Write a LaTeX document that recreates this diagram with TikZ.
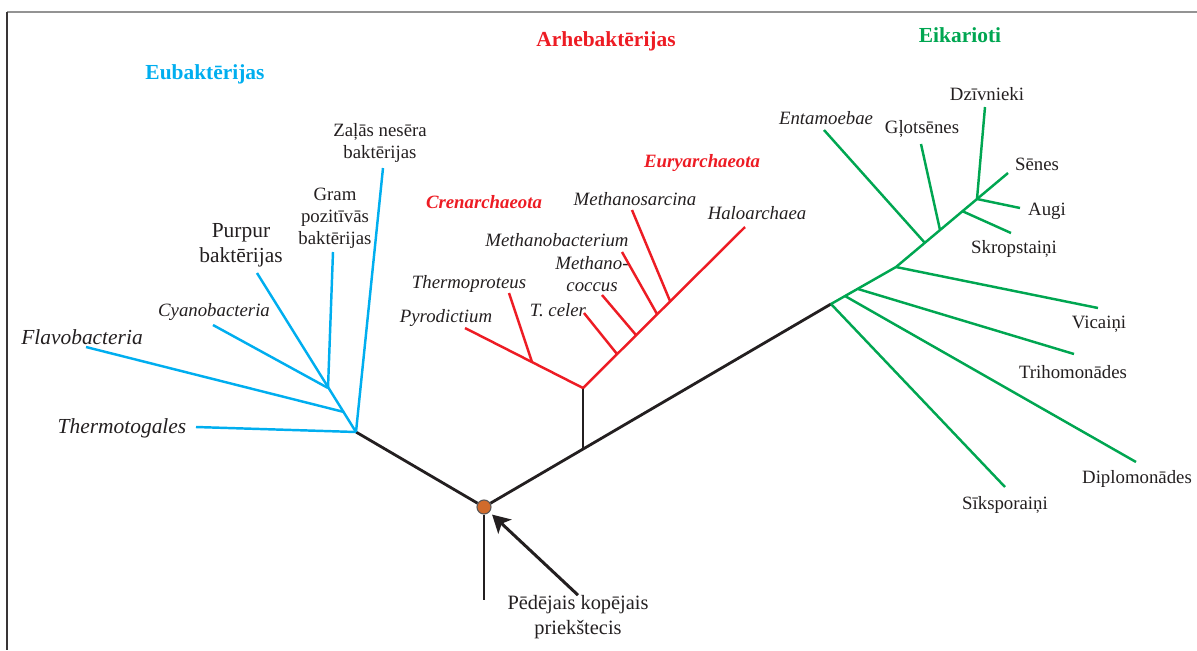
\documentclass[tikz,border=0pt]{standalone}
\usepackage{fontspec}
\setmainfont{Liberation Serif}
\usetikzlibrary{arrows.meta}

\definecolor{eublue}{RGB}{0,174,239}
\definecolor{arred}{RGB}{237,28,36}
\definecolor{ekgreen}{RGB}{0,166,81}
\definecolor{ancfill}{RGB}{209,107,44}
\definecolor{ink}{RGB}{35,31,32}

\begin{document}
\begin{tikzpicture}[x=0.02cm, y=-0.02cm,
	trunk/.style		={line width=1.6pt, ink},
	eub/.style			={line width=1.4pt, eublue},
	arb/.style			={line width=1.4pt, arred},
	ekb/.style			={line width=1.4pt, ekgreen},
	lbl/.style			={inner sep=0pt, align=center, text=ink, font=\fontsize{10.7}{12.6}\selectfont},
	lbi/.style			={inner sep=0pt, align=center, text=ink, font=\itshape\fontsize{10.7}{12.6}\selectfont},
	biglbl/.style		={inner sep=0pt, align=center, text=ink, font=\fontsize{12.2}{14.2}\selectfont},
	biglbi/.style		={inner sep=0pt, align=center, text=ink, font=\itshape\fontsize{12.2}{14.2}\selectfont},
	grouptitle/.style	={inner sep=0pt, font=\bfseries\fontsize{12.2}{14}\selectfont},
	subtitle/.style		={inner sep=0pt, text=arred, font=\bfseries\itshape\fontsize{10.7}{12.6}\selectfont},
	pointer/.style		={line width=1.7pt, ink, -{Stealth[length=10pt, width=11pt, inset=2.5pt]}}]

	\useasboundingbox (0,0) rectangle (1197,650);
	\draw[gray!85, line width=1.2pt]	(7,12) -- (1197,12);
	\draw[ink!90, line width=1.1pt]	(7,12) -- (7,650);

	% junctions
	\coordinate (eu)	at (356,432);
	\coordinate (ar)	at (583,450);
	\coordinate (arB)	at (583,388);
	\coordinate (ek)	at (831,304);
	\coordinate (stemE)	at (484,600);

	\node[circle, draw=ink!75, fill=ancfill, line width=0.6pt, minimum size=8pt, inner sep=0pt] (anc) at (484,507) {};

	\path[trunk]
	(anc)	edge	(eu)
			edge	(ek)
			edge	(stemE)
	(ar)	edge	(arB);

	\node[lbl, font=\fontsize{11.6}{14}\selectfont] (lca) at (578,617) {Pēdējais kopējais\\priekštecis};
	\draw[pointer, shorten >=2pt] (lca.north) -- (anc);

	% Eubakterijas
	\node[grouptitle, text=eublue]	(eutitle)	at (205,74)		{Eubaktērijas};
	\node[lbl]		(zal)		at (380,143)	{Zaļās nesēra\\baktērijas};
	\node[lbl]		(gram)		at (335,218)	{Gram\\pozitīvās\\baktērijas};
	\node[biglbl]	(purp)		at (241,245)	{Purpur\\baktērijas};
	\node[lbi]		(cyan)		at (214,312)	{Cyanobacteria};
	\node[biglbi]	(flav)		at (82,337)		{Flavobacteria};
	\node[biglbi]	(thermo)	at (122,428)	{Thermotogales};

	\coordinate (euFlav)	at (344,412);
	\coordinate (euCyan)	at (328,388);
	\coordinate (zalE)		at (383,168);
	\coordinate (gramE)		at (333,252);
	\coordinate (purpE)		at (257,273);
	\coordinate (cyanE)		at (213,325);
	\coordinate (flavE)		at (86,347);
	\coordinate (thermoE)	at (196,427);

	\path[eub]
	(eu)		edge	(zalE)
				edge	(purpE)
				edge	(thermoE)
	(euFlav)	edge	(flavE)
	(euCyan)	edge	(cyanE)
				edge	(gramE);

	% Arhebakterijas
	\node[grouptitle, text=arred]	(artitle)	at (606,41)		{Arhebaktērijas};
	\node[subtitle]	(cren)		at (484,202)	{Crenarchaeota};
	\node[subtitle]	(eury)		at (702,163)	{Euryarchaeota};
	\node[lbi]		(msar)		at (635,199)	{Methanosarcina};
	\node[lbi]		(halo)		at (757,213)	{Haloarchaea};
	\node[lbi]		(mbac)		at (557,240)	{Methanobacterium};
	\node[lbi]		(mcoc)		at (592,274)	{Methano-\\coccus};
	\node[lbi]		(tprot)		at (469,284)	{Thermoproteus};
	\node[lbi]		(tcel)		at (558,310)	{T. celer};
	\node[lbi]		(pyro)		at (446,318)	{Pyrodictium};

	\coordinate (arTprot)	at (532,362);
	\coordinate (arTcel)	at (617,354);
	\coordinate (arMcoc)	at (636,335);
	\coordinate (arMbac)	at (657,314);
	\coordinate (arMsar)	at (670,301);
	\coordinate (pyroE)		at (465,328);
	\coordinate (tprotE)	at (509,293);
	\coordinate (haloE)		at (745,227);
	\coordinate (tcelE)		at (584,313);
	\coordinate (mcocE)		at (602,295);
	\coordinate (mbacE)		at (622,252);
	\coordinate (msarE)		at (632,210);

	\path[arb]
	(arB)		edge	(pyroE)
				edge	(haloE)
	(arTprot)	edge	(tprotE)
	(arTcel)	edge	(tcelE)
	(arMcoc)	edge	(mcocE)
	(arMbac)	edge	(mbacE)
	(arMsar)	edge	(msarE);

	% Eikarioti
	\node[grouptitle, text=ekgreen]	(ektitle)	at (960,35)		{Eikarioti};
	\node[lbl]		(dzv)		at (987,94)		{Dzīvnieki};
	\node[lbi]		(ent)		at (826,118)	{Entamoebae};
	\node[lbl]		(glot)		at (922,129)	{Gļotsēnes};
	\node[lbl]		(sen)		at (1037,164)	{Sēnes};
	\node[lbl]		(aug)		at (1047,211)	{Augi};
	\node[lbl]		(skr)		at (1014,249)	{Skropstaiņi};
	\node[lbl]		(vic)		at (1099,324)	{Vicaiņi};
	\node[lbl]		(tri)		at (1073,372)	{Trihomonādes};
	\node[lbl]		(dip)		at (1137,479)	{Diplomonādes};
	\node[lbl]		(sik)		at (1005,505)	{Sīksporaiņi};

	\coordinate (ekVic)		at (896,267);
	\coordinate (ekDip)		at (845,296);
	\coordinate (ekTri)		at (858,289);
	\coordinate (ekEnt)		at (925,243);
	\coordinate (ekGlot)	at (940,230);
	\coordinate (ekSkr)		at (962,211);
	\coordinate (ekDzv)		at (977,199);
	\coordinate (senE)		at (1008,173);
	\coordinate (sikE)		at (1005,487);
	\coordinate (dipE)		at (1136,462);
	\coordinate (triE)		at (1074,354);
	\coordinate (vicE)		at (1098,308);
	\coordinate (entE)		at (824,130);
	\coordinate (glotE)		at (921,144);
	\coordinate (skrE)		at (1011,233);
	\coordinate (augE)		at (1020,208);
	\coordinate (dzvE)		at (985,107);

	\draw[ekb, line join=round] (ek) -- (ekVic) -- (senE);
	\path[ekb]
	(ek)		edge	(sikE)
	(ekDip)		edge	(dipE)
	(ekTri)		edge	(triE)
	(ekVic)		edge	(vicE)
	(ekEnt)		edge	(entE)
	(ekGlot)	edge	(glotE)
	(ekSkr)		edge	(skrE)
	(ekDzv)		edge	(augE)
				edge	(dzvE);

\end{tikzpicture}
\end{document}
